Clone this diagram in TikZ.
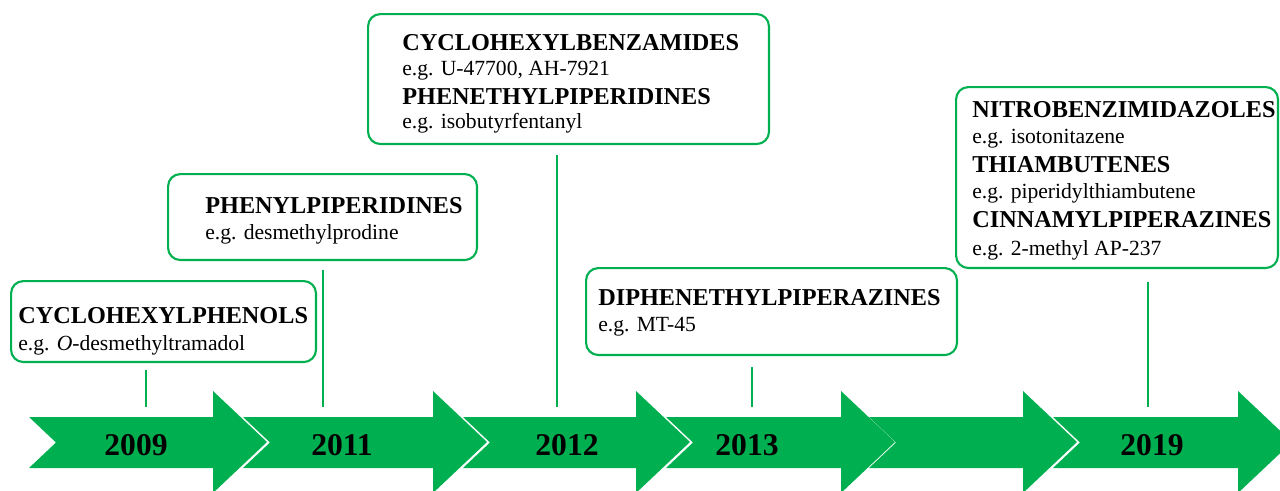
\documentclass[tikz,border=0pt]{standalone}
\usepackage{fontspec}
\setmainfont{Liberation Serif}
\definecolor{tlgreen}{HTML}{00B050}

\begin{document}
\begin{tikzpicture}[
  x=0.02cm, y=-0.02cm,
  stem/.style={draw=tlgreen, line width=1.1pt},
  tagbox/.style={draw=tlgreen, line width=1.2pt, rounded corners=7pt,
    fill=white, inner sep=0pt, anchor=north west},
  family/.style={anchor=base west, inner sep=0pt,
    font=\fontsize{13.8}{15}\selectfont\bfseries},
  sample/.style={anchor=base west, inner sep=0pt,
    font=\fontsize{12.3}{14}\selectfont},
  year/.style={anchor=base, inner sep=0pt,
    font=\fontsize{18}{20}\selectfont\bfseries}
]
  \useasboundingbox (0,0) rectangle (1280,490);

  % timeline arrows (left end, start of head)
  \begin{scope}
    \clip (0,0) rectangle (1280,490);
    \foreach \l/\h in {29/213, 243/433, 463/636, 666/841, 869/1023, 1053/1238}
      \fill[tlgreen] (\l,417) -- (\h,417) -- (\h,391) -- (\h+54,442)
        -- (\h,493) -- (\h,468) -- (\l,468) -- (\l+27,442.5) -- cycle;
  \end{scope}

  \node[year] (y2009) at (136,455) {2009};
  \node[year] (y2011) at (342,455) {2011};
  \node[year] (y2012) at (567,455) {2012};
  \node[year] (y2013) at (747,455) {2013};
  \node[year] (y2019) at (1152,455) {2019};

  % boxes
  \node[tagbox, minimum width=6.1cm,  minimum height=1.62cm] (cphen) at (10,280) {};
  \node[tagbox, minimum width=6.18cm, minimum height=1.72cm] (phpip) at (167,173) {};
  \node[tagbox, minimum width=8.02cm, minimum height=2.6cm]  (cbenz) at (367,13) {};
  \node[tagbox, minimum width=7.42cm, minimum height=1.74cm] (dpip)  at (585,267) {};
  \node[tagbox, minimum width=6.44cm, minimum height=3.62cm] (nitro) at (955,86) {};

  \node[family] (cphen1) at (18,323) {CYCLOHEXYLPHENOLS};
  \node[sample] (cphen2) at (18,350) {e.g. \textit{O}-desmethyltramadol};

  \node[family] (phpip1) at (205,213) {PHENYLPIPERIDINES};
  \node[sample] (phpip2) at (205,239) {e.g. desmethylprodine};

  \node[family] (cbenz1) at (402,50)  {CYCLOHEXYLBENZAMIDES};
  \node[sample] (cbenz2) at (402,75)  {e.g. U-47700, AH-7921};
  \node[family] (cbenz3) at (402,104) {PHENETHYLPIPERIDINES};
  \node[sample] (cbenz4) at (402,128) {e.g. isobutyrfentanyl};

  \node[family] (dpip1) at (598,305) {DIPHENETHYLPIPERAZINES};
  \node[sample] (dpip2) at (598,331) {e.g. MT-45};

  \node[family] (nitro1) at (972,117) {NITROBENZIMIDAZOLES};
  \node[sample] (nitro2) at (972,143) {e.g. isotonitazene};
  \node[family] (nitro3) at (972,172) {THIAMBUTENES};
  \node[sample] (nitro4) at (972,198) {e.g. piperidylthiambutene};
  \node[family] (nitro5) at (972,227) {CINNAMYLPIPERAZINES};
  \node[sample] (nitro6) at (972,255) {e.g. 2-methyl AP-237};

  % stems between boxes and arrows
  \foreach \yr/\x/\top in {2009/146/370, 2011/323/270, 2012/557/155,
                            2013/752/367, 2019/1148/282} {
    \coordinate (top\yr) at (\x,\top);
    \coordinate (bot\yr) at (\x,407);
    \draw[stem] (top\yr) -- (bot\yr);
  }
\end{tikzpicture}
\end{document}
